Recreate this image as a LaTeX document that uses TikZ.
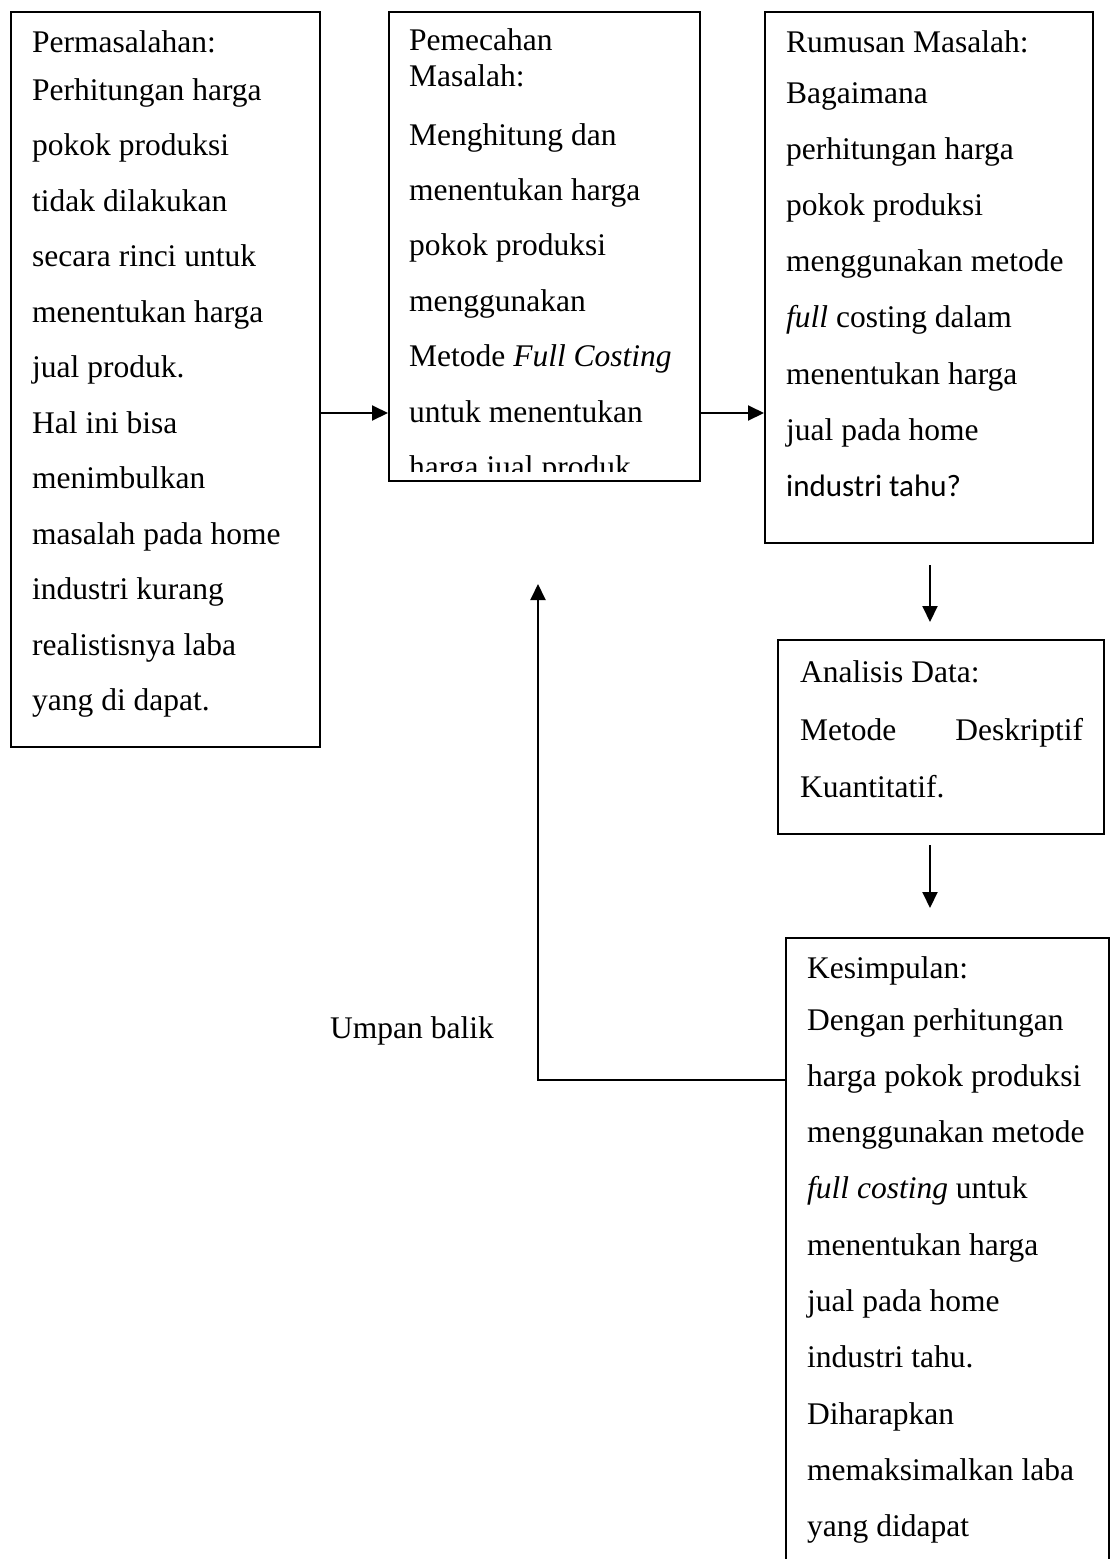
\documentclass[tikz,border=0pt]{standalone}
\usepackage{fontspec}
\setmainfont{Liberation Serif}
\newfontfamily\calibrifont{Carlito}
\usetikzlibrary{arrows.meta}
\begin{document}
\begin{tikzpicture}[x=1pt,y=-1pt,
  box/.style={draw, line width=2pt, inner sep=0pt, rectangle, anchor=north west},
  txt/.style={anchor=base west, inner sep=0pt, font=\fontsize{31.5}{38}\selectfont},
  arr/.style={line width=2pt, -{Triangle[length=16pt,width=15pt]}}]
\useasboundingbox[fill=white] (0,0) rectangle (1115,1559);

% boxes
\node[box, minimum width=309pt, minimum height=735pt] (p) at (10,11) {};
\node[box, minimum width=311pt, minimum height=469pt] (m) at (388,11) {};
\node[box, minimum width=328pt, minimum height=531pt] (r) at (764,11) {};
\node[box, minimum width=326pt, minimum height=194pt] (a) at (777,639) {};
\node[inner sep=0pt, anchor=north west, minimum width=323pt, minimum height=640pt] (k) at (786,938) {};
\draw[line width=2pt] (k.south west) -- (k.north west) -- (k.north east) -- (k.south east);

% box 1 text
\node[txt] (p1) at (32,52) {Permasalahan:};
\node[txt] (p2) at (32,100) {Perhitungan harga};
\node[txt] (p3) at (32,155.5) {pokok produksi};
\node[txt] (p4) at (32,211) {tidak dilakukan};
\node[txt] (p5) at (32,266.5) {secara rinci untuk};
\node[txt] (p6) at (32,322) {menentukan harga};
\node[txt] (p7) at (32,377.5) {jual produk.};
\node[txt] (p8) at (32,433) {Hal ini bisa};
\node[txt] (p9) at (32,488.5) {menimbulkan};
\node[txt] (p10) at (32,544) {masalah pada home};
\node[txt] (p11) at (32,599.5) {industri kurang};
\node[txt] (p12) at (32,655) {realistisnya laba};
\node[txt] (p13) at (32,710.5) {yang di dapat.};

% box 2 text (clipped at the bottom)
\begin{scope}
\clip (388,11) rectangle (699,471.5);
\node[txt] (m1) at (409,50) {Pemecahan};
\node[txt] (m2) at (409,86) {Masalah:};
\node[txt] (m3) at (409,145) {Menghitung dan};
\node[txt] (m4) at (409,200.4) {menentukan harga};
\node[txt] (m5) at (409,255.8) {pokok produksi};
\node[txt] (m6) at (409,311.2) {menggunakan};
\node[txt] (m7) at (409,366.6) {Metode \textit{Full Costing}};
\node[txt] (m8) at (409,422) {untuk menentukan};
\node[txt] (m9) at (409,477.4) {harga jual produk};
\end{scope}

% box 3 text
\node[txt] (r1) at (786,52) {Rumusan Masalah:};
\node[txt] (r2) at (786,103) {Bagaimana};
\node[txt] (r3) at (786,159) {perhitungan harga};
\node[txt] (r4) at (786,215) {pokok produksi};
\node[txt] (r5) at (786,271) {menggunakan metode};
\node[txt] (r6) at (786,327.5) {\textit{full} costing dalam};
\node[txt] (r7) at (786,384) {menentukan harga};
\node[txt] (r8) at (786,440.5) {jual pada home};
\node[txt, font=\fontsize{31}{38}\calibrifont] (r9) at (786,496.5) {industri tahu?};

% box 4 text
\node[txt] (a1) at (800,682) {Analisis Data:};
\node[txt] (a2) at (800,740) {\makebox[283pt][s]{Metode\hfill Deskriptif}};
\node[txt] (a3) at (800,797) {Kuantitatif.};

% box 5 text
\node[txt] (k1) at (807,978) {Kesimpulan:};
\node[txt] (k2) at (807,1030) {Dengan perhitungan};
\node[txt] (k3) at (807,1086.3) {harga pokok produksi};
\node[txt] (k4) at (807,1142.6) {menggunakan metode};
\node[txt] (k5) at (807,1198.9) {\textit{full costing} untuk};
\node[txt] (k6) at (807,1255.2) {menentukan harga};
\node[txt] (k7) at (807,1311.5) {jual pada home};
\node[txt] (k8) at (807,1367.8) {industri tahu.};
\node[txt] (k9) at (807,1424.1) {Diharapkan};
\node[txt] (k10) at (807,1480.4) {memaksimalkan laba};
\node[txt] (k11) at (807,1536.7) {yang didapat};

% feedback label
\node[txt] (ub) at (330,1038) {Umpan balik};

% connectors
\coordinate (ya) at (0,413);
\draw[arr] (p.east |- ya) -- (m.west |- ya);
\draw[arr] (m.east |- ya) -- (r.west |- ya);
\coordinate (d1s) at (930,565);
\coordinate (d1e) at (930,622);
\draw[arr] (d1s) -- (d1e);
\coordinate (d2s) at (930,845);
\coordinate (d2e) at (930,908);
\draw[arr] (d2s) -- (d2e);
\coordinate (fb) at (538,1080);
\coordinate (fbtip) at (538,584);
\draw[arr] (k.west |- fb) -- (fb) -- (fbtip);
\end{tikzpicture}
\end{document}
